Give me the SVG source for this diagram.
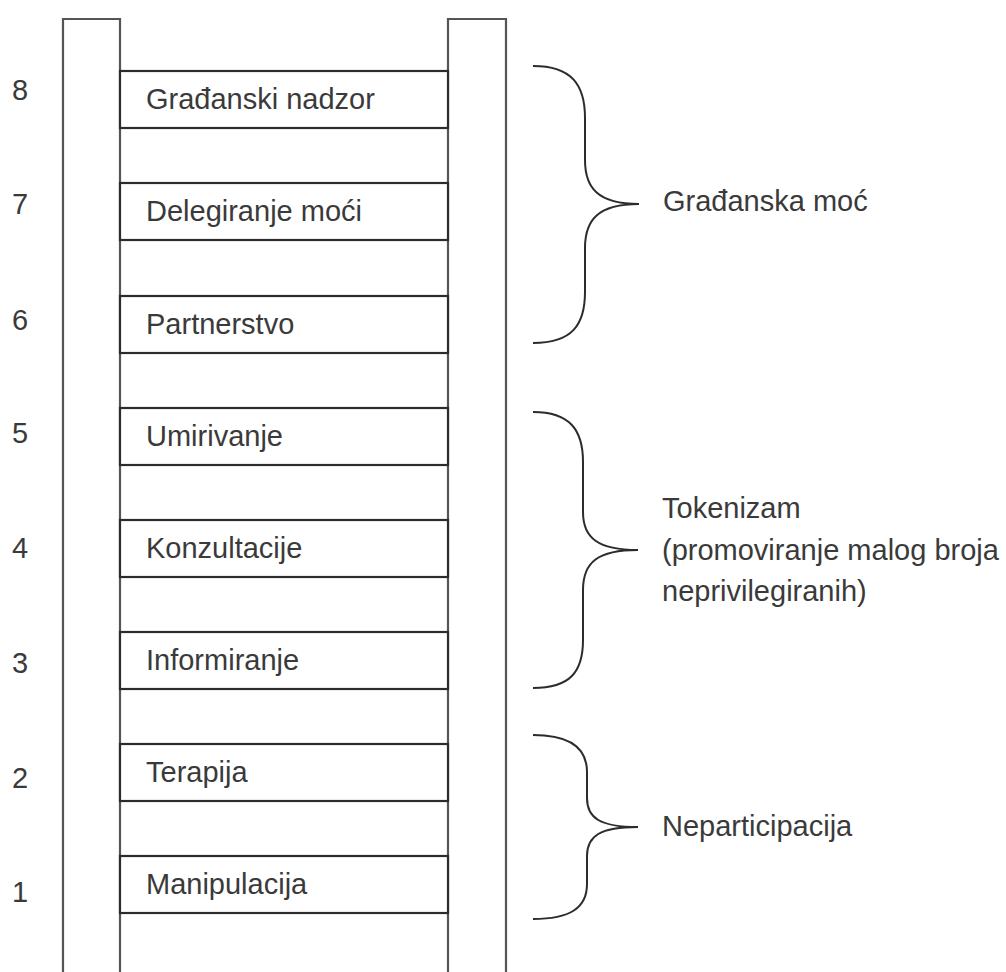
<svg xmlns="http://www.w3.org/2000/svg" width="1006" height="972" viewBox="0 0 1006 972">
<style>
.rail{fill:none;stroke:#555;stroke-width:2.2}
.rung{fill:#fff;stroke:#2c2c2c;stroke-width:2.2}
.brace{fill:none;stroke:#2c2c2c;stroke-width:2}
text{font-family:"Liberation Sans",Arial,sans-serif;font-size:29px;fill:#3a3a3a}
.num{text-anchor:middle}
</style>
<rect width="1006" height="972" fill="#fff"/>
<g id="rails">
<path class="rail" d="M63,975 V19 H120 V975"/>
<path class="rail" d="M448,975 V19 H506 V975"/>
</g>
<g id="rung8"><rect class="rung" x="120" y="71" width="328" height="57"/><text class="num" x="20" y="100">8</text><text x="146" y="109">Građanski nadzor</text></g>
<g id="rung7"><rect class="rung" x="120" y="183" width="328" height="57"/><text class="num" x="20" y="214">7</text><text x="146" y="221">Delegiranje moći</text></g>
<g id="rung6"><rect class="rung" x="120" y="296" width="328" height="57"/><text class="num" x="20" y="330">6</text><text x="146" y="334">Partnerstvo</text></g>
<g id="rung5"><rect class="rung" x="120" y="408" width="328" height="57"/><text class="num" x="20" y="443">5</text><text x="146" y="446">Umirivanje</text></g>
<g id="rung4"><rect class="rung" x="120" y="520" width="328" height="57"/><text class="num" x="20" y="558">4</text><text x="146" y="558">Konzultacije</text></g>
<g id="rung3"><rect class="rung" x="120" y="632" width="328" height="57"/><text class="num" x="20" y="673">3</text><text x="146" y="670">Informiranje</text></g>
<g id="rung2"><rect class="rung" x="120" y="744" width="328" height="57"/><text class="num" x="20" y="788">2</text><text x="146" y="782">Terapija</text></g>
<g id="rung1"><rect class="rung" x="120" y="856" width="328" height="57"/><text class="num" x="20" y="902">1</text><text x="146" y="894">Manipulacija</text></g>
<g id="connectors">
<g id="brace-citizen-power">
<path class="brace" d="M533,66 C572,66 585,85 585,118 L585,160 C585,188 598,204 639,204 C598,204 585,220 585,248 L585,292 C585,325 572,343 533,343"/>
<text x="663" y="211">Građanska moć</text>
</g>
<g id="brace-tokenism">
<path class="brace" d="M533,412 C570,412 583,430 583,462 L583,512 C583,538 598,550 638,550 C598,550 583,562 583,590 L583,640 C583,672 570,688 533,688"/>
<text x="662" y="518">Tokenizam</text>
<text x="662" y="560">(promoviranje malog broja</text>
<text x="662" y="601">neprivilegiranih)</text>
</g>
<g id="brace-nonparticipation">
<path class="brace" d="M533,735 C570,735 587,748 587,772 L587,798 C587,818 600,827 638,827 C600,827 587,836 587,856 L587,884 C587,908 570,919 533,919"/>
<text x="662" y="836">Neparticipacija</text>
</g>
</g>
</svg>
